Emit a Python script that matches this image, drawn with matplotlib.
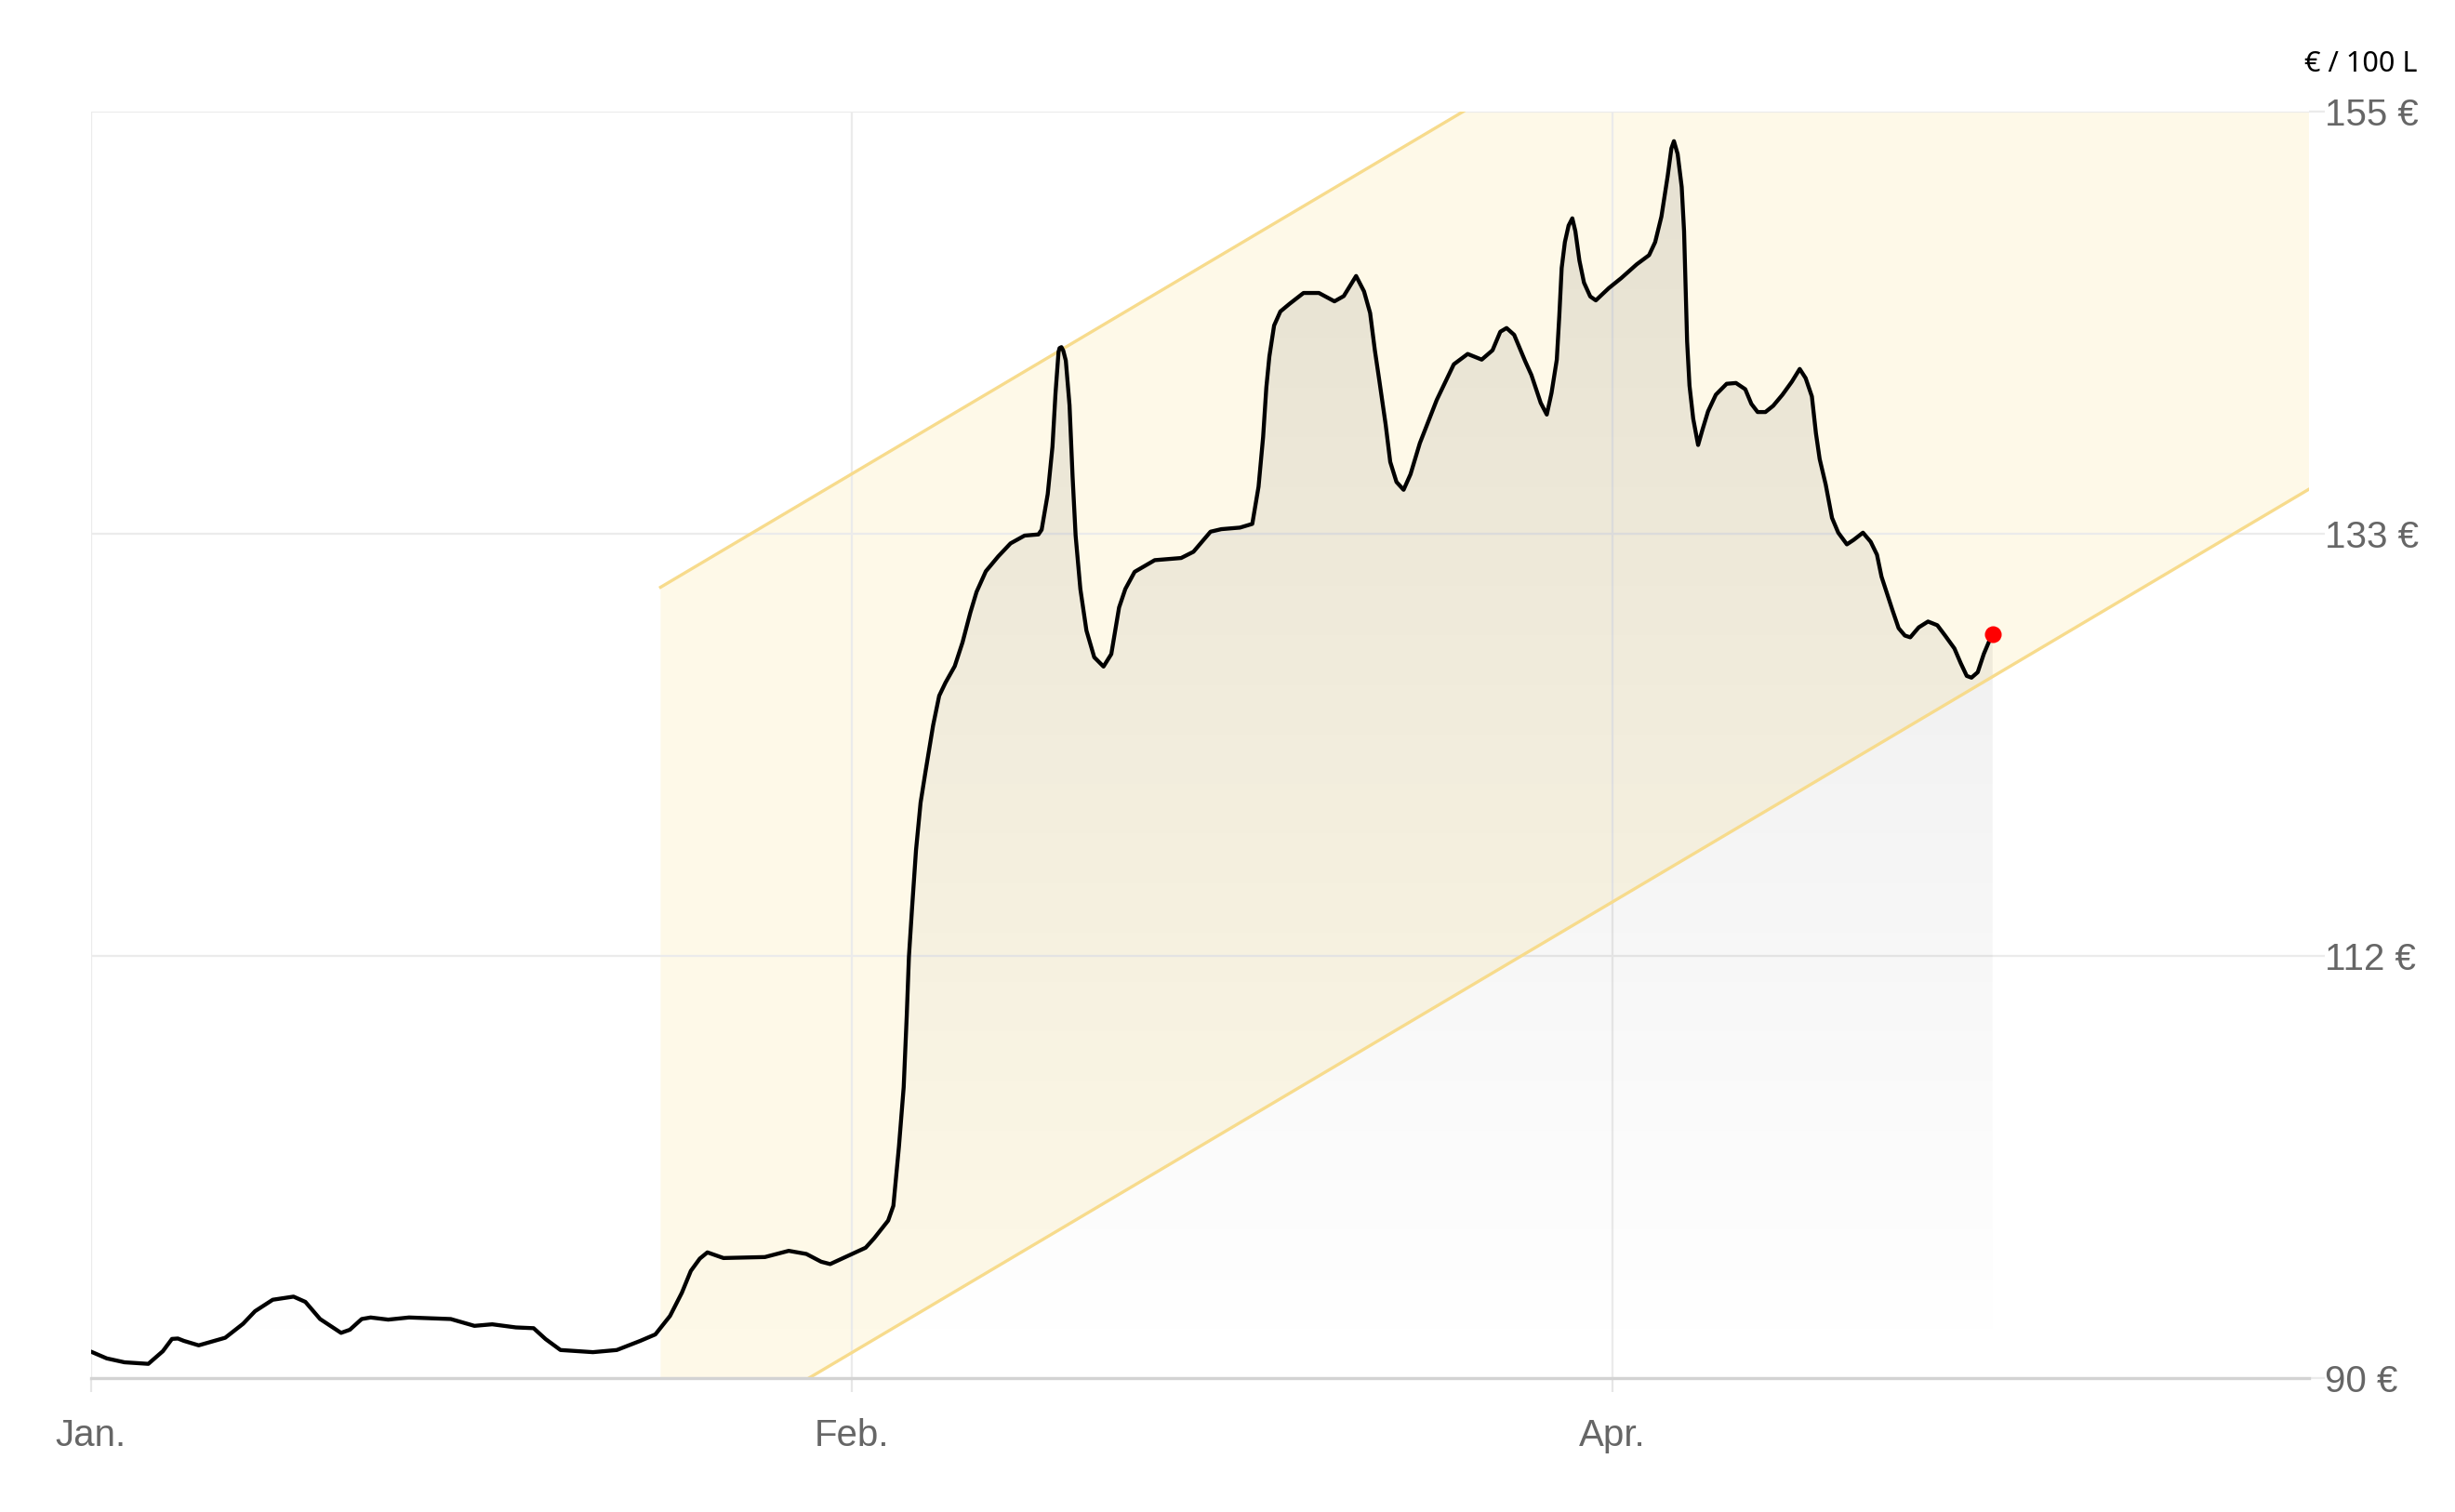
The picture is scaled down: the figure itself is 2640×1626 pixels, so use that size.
import numpy as np
import matplotlib
matplotlib.use("Agg")
import matplotlib.pyplot as plt
from matplotlib.patches import Polygon

plt.rcParams['font.family'] = ['Liberation Sans', 'DejaVu Sans']

# price per 100 L, x = days since 1 Jan
days = [0.00, 0.94, 1.99, 3.40, 4.26, 4.80, 5.15, 5.50, 6.38, 7.95, 9.01, 9.71, 10.76, 11.99, 12.69,
        13.56, 14.80, 15.32, 16.02, 16.55, 17.59, 18.82, 21.29, 22.69, 23.74, 25.14,
        26.19, 26.90, 27.78, 29.70, 31.11, 32.50, 33.39, 34.26, 34.96, 35.49, 36.02,
        36.47, 37.42, 39.87, 41.28, 42.32, 43.20, 43.73, 44.43, 45.83, 46.33, 47.16,
        47.47, 47.80, 48.08, 48.26, 48.39, 48.57, 48.81, 49.08, 49.36, 49.82, 50.18,
        50.55, 51.10, 51.56, 52.02, 52.39, 52.94, 53.67, 54.40, 55.23, 56.05, 56.24,
        56.60, 56.88, 57.06, 57.24, 57.30, 57.41, 57.52, 57.67, 57.89, 58.07, 58.25, 58.53, 58.89,
        59.35, 59.90, 60.36, 60.82, 61.19, 61.74, 62.93, 64.49, 65.22, 66.23, 66.87,
        67.97, 68.70, 69.07, 69.34, 69.53, 69.71, 69.99, 70.36, 70.90, 71.73, 72.64,
        73.56, 74.11, 74.84, 75.31, 75.67, 75.95, 76.22, 76.59, 76.86, 77.23, 77.65,
        78.06, 78.61, 79.61, 80.62, 81.44, 82.27, 82.91, 83.37, 83.74, 84.19, 84.84,
        85.21, 85.76, 86.12, 86.40, 86.71, 86.86, 87.00, 87.19, 87.41, 87.63, 87.81,
        88.05, 88.32, 88.69, 89.02, 89.79, 90.52, 91.44, 92.17, 92.53, 92.90, 93.27,
        93.49, 93.64, 93.86, 94.10, 94.24, 94.33, 94.42, 94.56, 94.78, 95.07, 95.33,
        95.66, 96.12, 96.76, 97.31, 97.86, 98.22, 98.59, 99.05, 99.51, 100.06, 100.61,
        101.08, 101.43, 101.80, 102.04, 102.26, 102.62, 102.99, 103.36, 103.87, 104.27,
        104.82, 105.28, 105.65, 105.92, 106.20, 106.56, 106.93, 107.30, 107.62, 108.12,
        108.67, 109.22, 109.68, 110.23, 110.60, 110.96, 111.24, 111.61, 111.97, 112.34,
        112.49]
price = [91.35, 91.00, 90.80, 90.72, 91.37, 92.00, 92.02, 91.90, 91.67, 92.06, 92.78, 93.42, 94.01, 94.17, 93.90,
         93.02, 92.31, 92.47, 93.02, 93.10, 92.99, 93.10, 93.02, 92.67, 92.75, 92.59,
         92.55, 91.99, 91.43, 91.32, 91.43, 91.90, 92.23, 93.18, 94.37, 95.49, 96.12,
         96.44, 96.15, 96.20, 96.52, 96.36, 95.96, 95.84, 96.12, 96.68, 97.16, 98.07,
         98.83, 101.87, 104.92, 108.57, 111.61, 114.04, 117.09, 119.52, 121.05, 123.48, 125.00,
         125.67, 126.52, 127.74, 129.26, 130.33, 131.39, 132.15, 132.82, 133.22, 133.28, 133.52,
         135.35, 137.78, 140.52, 142.65, 142.84, 142.89, 142.71, 142.20, 139.91, 136.26, 133.22, 130.48, 128.35,
         126.98, 126.50, 127.14, 129.53, 130.48, 131.36, 131.96, 132.07, 132.39, 133.42, 133.55,
         133.63, 133.82, 135.73, 138.28, 140.82, 142.41, 144.00, 144.72, 145.11, 145.67, 145.67,
         145.24, 145.51, 146.54, 145.75, 144.64, 142.73, 141.14, 138.91, 137.00, 135.97, 135.57,
         136.37, 137.96, 140.18, 142.01, 142.54, 142.25, 142.73, 143.68, 143.87, 143.52, 142.17,
         141.46, 140.03, 139.43, 140.54, 142.24, 144.50, 146.95, 148.28, 149.13, 149.50, 148.84,
         147.33, 146.20, 145.49, 145.29, 145.92, 146.43, 147.14, 147.61, 148.28, 149.59, 151.67,
         153.09, 153.46, 152.80, 151.11, 148.84, 146.01, 143.18, 140.92, 139.22, 137.87, 138.66,
         139.60, 140.45, 141.01, 141.05, 140.73, 139.98, 139.56, 139.56, 139.88, 140.45, 141.11,
         141.77, 141.30, 140.36, 138.47, 137.15, 135.83, 134.13, 133.37, 132.77, 133.00,
         133.37, 132.90, 132.24, 131.11, 130.36, 129.41, 128.47, 128.09, 128.00, 128.51,
         128.81, 128.62, 128.09, 127.43, 126.68, 126.02, 125.93, 126.21, 127.15, 127.91,
         128.15]

# trend channel
band_x = [33.7, 131.2]
band_low = [85.48, 135.6]
band_high = [130.57, 180.7]

x_ticks = [0, 45, 90]
x_labels = ['Jan.', 'Feb.', 'Apr.']
y_ticks = [90, 90 + 65 / 3, 90 + 130 / 3, 155]
y_labels = ['90 €', '112 €', '133 €', '155 €']

y_min, y_max = 90, 155
x_max = 131.2

fig = plt.figure(figsize=(13.2, 8.13), dpi=200)
ax = fig.add_axes([0.037, 0.0887, 0.9035, 0.8378])

# channel
ax.fill_between(band_x, band_low, band_high, color='#fef9e8', lw=0, zorder=1)
ax.plot(band_x, band_low, color='#f7db8c', lw=1.2, zorder=2)
ax.plot(band_x, band_high, color='#f7db8c', lw=1.2, zorder=2)

# gradient under the curve
verts = [(days[0], y_min)] + list(zip(days, price)) + [(days[-1], y_min)]
area = Polygon(verts, closed=True, facecolor='none', edgecolor='none')
ax.add_patch(area)
grad = np.zeros((256, 1, 4))
grad[:, 0, 3] = np.linspace(0.1, 0.0, 256)
im = ax.imshow(grad, extent=[days[0], days[-1], y_min, y_max], aspect='auto',
               origin='upper', zorder=1.6)
im.set_clip_path(area)

ax.plot(days, price, color='black', lw=1.55, zorder=3,
        solid_joinstyle='round', solid_capstyle='round')
ax.plot(days[-1], price[-1], 'o', color='red', ms=6.5, mew=0, zorder=4)

ax.set_xlim(0, x_max)
ax.set_ylim(y_min, y_max)

ax.set_xticks(x_ticks)
ax.set_xticklabels(x_labels)
ax.set_yticks(y_ticks)
ax.set_yticklabels(y_labels)
ax.yaxis.tick_right()

ax.grid(True, color='#ebebeb', lw=0.8)
ax.set_axisbelow('line')

for s in ['top', 'left', 'right']:
    ax.spines[s].set_visible(False)
ax.spines['bottom'].set_color('#d3d3d3')
ax.spines['bottom'].set_linewidth(1.2)
ax.spines['bottom'].set_zorder(5)

ax.tick_params(axis='y', length=6, width=0.8, color='#ebebeb', pad=0.3,
               labelsize=14.5, labelcolor='#666666')
ax.tick_params(axis='x', length=5.4, width=0.8, color='#e6e6e6', pad=10,
               labelsize=14.5, labelcolor='#666666')

fig.text(0.9845, 0.9526, '€ / 100 L', ha='right', va='baseline',
         fontsize=11, family='Noto Sans', color='black')

fig.savefig('out.png', dpi=200, facecolor='white')
